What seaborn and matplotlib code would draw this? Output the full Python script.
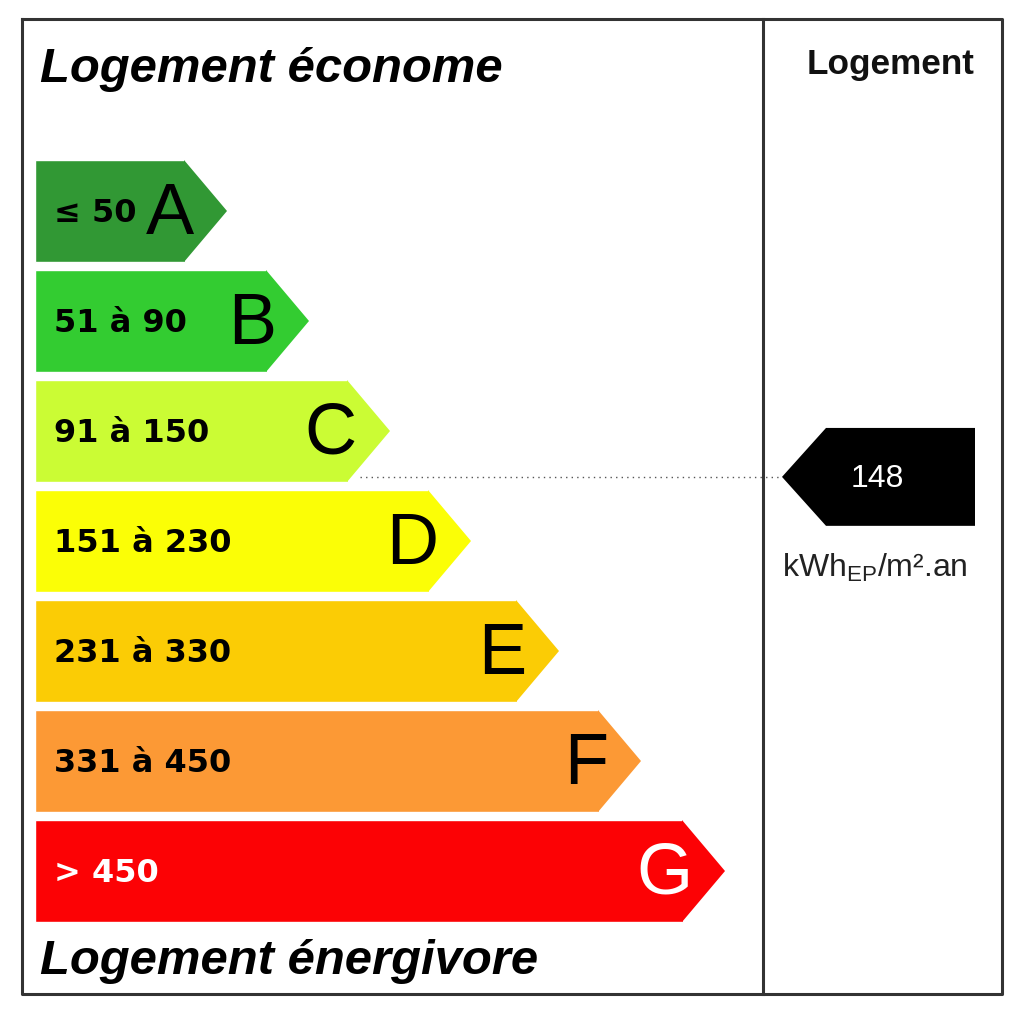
import numpy as np
import pandas as pd
import matplotlib
matplotlib.use("Agg")
import matplotlib.pyplot as plt
from matplotlib.patches import Polygon
import seaborn as sns

# --- données de l'étiquette énergie ---
classes = ["A", "B", "C", "D", "E", "F", "G"]
ranges = ["≤ 50", "51 à 90", "91 à 150", "151 à 230", "231 à 330", "331 à 450", "> 450"]
lower = [0, 51, 91, 151, 231, 331, 451]
upper = [50, 90, 150, 230, 330, 450, 600]
bar_lengths = [150, 232, 313, 394, 482, 564, 648]
colors = ["#319834", "#33cc31", "#cbfc34", "#fbfe06", "#fbcc05", "#fc9935", "#fc0205"]
text_colors = ["black", "black", "black", "black", "black", "black", "white"]
value = 148
unit = r"kWh$_{\mathregular{EP}}$/m².an"

df = pd.DataFrame({"classe": classes, "longueur": bar_lengths})

sns.set_theme(style="white")
plt.rcParams["font.family"] = ["Liberation Sans", "DejaVu Sans"]

fig = plt.figure(figsize=(10.24, 10.17), dpi=100)
ax = fig.add_axes([0, 0, 1, 1])

bar_h = 0.927
tip = 42
sns.barplot(data=df, x="longueur", y="classe", hue="classe", palette=colors,
            orient="h", width=bar_h, saturation=1, legend=False, ax=ax)

# pointes des flèches + textes
for i, L in enumerate(bar_lengths):
    ax.add_patch(Polygon([(L - 1, i - bar_h / 2), (L + tip, i), (L - 1, i + bar_h / 2)],
                         closed=True, facecolor=colors[i], edgecolor="none"))
    ax.text(19, i + 0.02, ranges[i], ha="left", va="center", fontsize=23,
            fontweight="bold", family="DejaVu Sans", color=text_colors[i])
    ax.text(L + 9, i + 0.04, classes[i], ha="right", va="center", fontsize=52,
            color=text_colors[i])

# position de la valeur dans sa classe
k = next(i for i in range(len(classes)) if lower[i] <= value <= upper[i])
frac = (value - lower[k]) / (upper[k] - lower[k] + 1)
y_val = k - bar_h / 2 + frac * bar_h

arrow_x0, arrow_x1, arrow_x2 = 747, 791, 940
half = 0.445
ax.add_patch(Polygon([(arrow_x0, y_val), (arrow_x1, y_val - half), (arrow_x2, y_val - half),
                      (arrow_x2, y_val + half), (arrow_x1, y_val + half)],
                     closed=True, facecolor="black", edgecolor="none"))
ax.text((arrow_x1 + arrow_x2) / 2 - 23, y_val + 0.02, str(value), ha="center", va="center",
        fontsize=23, color="white")
ax.plot([bar_lengths[k] + 12, arrow_x0], [y_val, y_val], linestyle=(0, (1, 3)),
        color="#555555", lw=1)

ax.set_xlim(-35, 989)
ax.set_ylim(7.327, -1.918)
ax.axis("off")

# cadre et titres (coordonnées en pixels)
top = fig.add_axes([0, 0, 1, 1], facecolor="none")
top.set_xlim(0, 1024)
top.set_ylim(1017, 0)
top.axis("off")
frame_kw = dict(color="#333333", lw=2.2, solid_capstyle="projecting")
top.plot([22, 1002, 1002, 22, 22], [19, 19, 994, 994, 19], **frame_kw)
top.plot([763, 763], [19, 994], **frame_kw)

top.text(40, 82, "Logement économe", ha="left", va="baseline", fontsize=35.3,
         fontweight="bold", fontstyle="italic", color="black")
top.text(40, 974, "Logement énergivore", ha="left", va="baseline", fontsize=35.3,
         fontweight="bold", fontstyle="italic", color="black")
top.text(891, 74, "Logement", ha="center", va="baseline", fontsize=25.3,
         fontweight="bold", color="#111111")
top.text(875, 577, unit, ha="center", va="baseline", fontsize=23, color="#222222")

fig.savefig("out.png", dpi=100)
